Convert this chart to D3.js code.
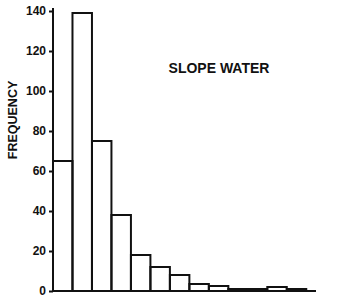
<!DOCTYPE html>
<html>
<head>
<meta charset="utf-8">
<script src="https://cdn.jsdelivr.net/npm/d3@7"></script>
<style>
  body { margin: 0; background: #fff; }
  text { font-family: "Liberation Sans", Arial, sans-serif; font-weight: bold; fill: #111; }
  .axis path, .axis line { stroke: #111; stroke-width: 2; }
</style>
</head>
<body>
<div id="chart"></div>
<script>
/* CONSTANTS AND GLOBALS */
const width = 345,
  height = 297,
  margin = { top: 11, bottom: 6, left: 53, right: 29 };

// frequency per bin
const bins = [1, 2, 3, 4, 5, 6, 7, 8, 9, 10, 11, 12, 13];
const frequency = [65, 139, 75, 38, 18, 12, 8, 3.5, 2.5, 1, 1, 2, 1];
const yTicks = [0, 20, 40, 60, 80, 100, 120, 140];
const yLabel = "FREQUENCY";
const title = "SLOPE WATER";

const svg = d3.select("#chart")
  .append("svg")
    .attr("width", width)
    .attr("height", height);

const xScale = d3.scaleLinear()
  .domain([0, 13.5])
  .range([margin.left, width - margin.right]);

const yScale = d3.scaleLinear()
  .domain([0, 140])
  .range([height - margin.bottom, margin.top]);

// bars
svg.selectAll(".bar")
  .data(bins)
  .join("rect")
    .attr("class", "bar")
    .attr("x", (d, i) => xScale(i))
    .attr("width", (d, i) => xScale(i + 1) - xScale(i))
    .attr("y", (d, i) => yScale(frequency[i]))
    .attr("height", (d, i) => yScale(0) - yScale(frequency[i]))
    .attr("fill", "none")
    .attr("stroke", "#111")
    .attr("stroke-width", 2);

// y axis
const yAxis = d3.axisLeft(yScale)
  .tickValues(yTicks)
  .tickSize(4)
  .tickSizeOuter(0)
  .tickPadding(3);

svg.append("g")
  .attr("class", "axis")
  .attr("transform", `translate(${margin.left},0)`)
  .call(yAxis)
  .call(g => g.selectAll("text").attr("font-size", 12).attr("dy", "0.28em").style("fill", "#111"))
  .call(g => g.select(".domain").attr("d", `M0,${yScale(0)}V${margin.top - 3}`));

// x baseline
svg.append("line")
  .attr("x1", margin.left)
  .attr("x2", xScale(13.5))
  .attr("y1", yScale(0))
  .attr("y2", yScale(0))
  .attr("stroke", "#111")
  .attr("stroke-width", 2);

svg.append("text")
  .attr("transform", `translate(17,120) rotate(-90)`)
  .attr("text-anchor", "middle")
  .attr("font-size", 12.5)
  .text(yLabel);

svg.append("text")
  .attr("x", 219)
  .attr("y", 73)
  .attr("text-anchor", "middle")
  .attr("font-size", 14)
  .text(title);
</script>
</body>
</html>
